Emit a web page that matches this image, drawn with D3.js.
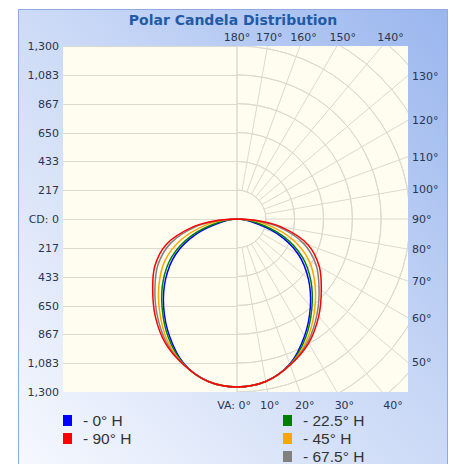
<!DOCTYPE html>
<html>
<head>
<meta charset="utf-8">
<script src="https://cdn.jsdelivr.net/npm/d3@7"></script>
<style>
  body { margin: 0; background: #fff; }
  svg { display: block; }
</style>
</head>
<body>
<script>
var width = 455;
var height = 464;

// vertical angles (deg from nadir) at which candela values were read
var angles = [0, 10, 20, 30, 40, 50, 60, 70, 80, 85, 90];

// candela per horizontal plane
var cd0 = [1262, 1240, 1160, 1015, 858, 700, 533, 318, 100, 40, 0];
var cd225 = [1262, 1240, 1163, 1030, 875, 725, 565, 360, 140, 60, 0];
var cd45 = [1262, 1240, 1165, 1050, 905, 765, 625, 440, 220, 100, 0];
var cd675 = [1262, 1240, 1166, 1065, 935, 805, 685, 530, 300, 150, 0];
var cd90 = [1262, 1240, 1167, 1077, 955, 827, 714, 569, 332, 170, 0];

var seriesNames = ["- 0° H", "- 22.5° H", "- 45° H", "- 67.5° H", "- 90° H"];
var seriesColors = ["#0000ff", "#008000", "#ffa500", "#808080", "#ff0000"];
var seriesValues = [cd0, cd225, cd45, cd675, cd90];

var cdTicks = [1300, 1083, 867, 650, 433, 217, 0, -217, -433, -650, -867, -1083, -1300];
var topLabels = [180, 170, 160, 150, 140];
var rightLabels = [130, 120, 110, 100, 90, 80, 70, 60, 50];
var bottomLabels = [0, 10, 20, 30, 40];
var gridAngles = d3.range(0, 181, 10);
var ringValues = [217, 433, 650, 867, 1083, 1300, 1517, 1733];

var plot = { left: 63, right: 408, top: 46, bottom: 392 };
var cx = 237, cy = 219;

var svg = d3.select("body")
    .append("svg")
    .attr("width", width)
    .attr("height", height);

var defs = svg.append("defs");
var grad = defs.append("linearGradient")
    .attr("id", "panelGrad")
    .attr("x1", 1).attr("y1", 0).attr("x2", 0).attr("y2", 1);
grad.append("stop").attr("offset", "0%").attr("stop-color", "#9ab6ee");
grad.append("stop").attr("offset", "45%").attr("stop-color", "#c9d8f6");
grad.append("stop").attr("offset", "100%").attr("stop-color", "#f7f9fe");

defs.append("clipPath").attr("id", "plotClip")
  .append("rect")
    .attr("x", plot.left).attr("y", plot.top)
    .attr("width", plot.right - plot.left)
    .attr("height", plot.bottom - plot.top);

// outer panel
svg.append("rect")
    .attr("x", 18.5).attr("y", 9.5)
    .attr("width", 429).attr("height", 470)
    .attr("fill", "url(#panelGrad)")
    .attr("stroke", "#8eaae0");

svg.append("text")
    .attr("x", 233).attr("y", 25)
    .attr("text-anchor", "middle")
    .style("font-family", "DejaVu Sans, sans-serif")
    .style("font-weight", "bold")
    .style("font-size", "14px")
    .attr("fill", "#1f5ba6")
    .text("Polar Candela Distribution");

// plot background
svg.append("rect")
    .attr("x", plot.left).attr("y", plot.top)
    .attr("width", plot.right - plot.left)
    .attr("height", plot.bottom - plot.top)
    .attr("fill", "#fffdf0");

var r = d3.scaleLinear().domain([0, 1300]).range([0, cy - plot.top]);
var y = d3.scaleLinear().domain([-1300, 1300]).range([cy + r(1300), cy - r(1300)]);

var grid = svg.append("g").attr("clip-path", "url(#plotClip)")
    .attr("stroke", "#dcdad0").attr("fill", "none").attr("stroke-width", 1);

// horizontal lines on the left half
grid.selectAll(".hline")
    .data(cdTicks)
    .enter()
    .append("line")
    .attr("x1", plot.left).attr("x2", cx)
    .attr("y1", function(d) { return Math.round(y(d)) + 0.5; })
    .attr("y2", function(d) { return Math.round(y(d)) + 0.5; });

// rings on the right half
var arc = d3.arc()
    .innerRadius(function(d) { return r(d); })
    .outerRadius(function(d) { return r(d); })
    .startAngle(0).endAngle(Math.PI);

grid.selectAll(".ring")
    .data(ringValues)
    .enter()
    .append("path")
    .attr("transform", "translate(" + cx + "," + cy + ")")
    .attr("d", arc);

// radial lines every 10 deg
grid.selectAll(".spoke")
    .data(gridAngles)
    .enter()
    .append("line")
    .attr("x1", function(d) { return cx + (d === 0 || d === 180 ? 0 : r(217)) * Math.sin(d * Math.PI / 180); })
    .attr("y1", function(d) { return cy + (d === 0 || d === 180 ? 0 : r(217)) * Math.cos(d * Math.PI / 180); })
    .attr("x2", function(d) { return cx + 400 * Math.sin(d * Math.PI / 180); })
    .attr("y2", function(d) { return cy + 400 * Math.cos(d * Math.PI / 180); });

svg.append("line")
    .attr("x1", cx).attr("x2", cx)
    .attr("y1", plot.top).attr("y2", plot.bottom)
    .attr("stroke", "#dcdad0");

// candela axis
var yAxis = d3.axisLeft(y)
    .tickValues(cdTicks)
    .tickSize(0)
    .tickPadding(0)
    .tickFormat(function(d) { return d === 0 ? "CD: 0" : d3.format(",")(Math.abs(d)); });

var ax = svg.append("g")
    .attr("transform", "translate(" + (plot.left - 4) + ",0)")
    .call(yAxis);
ax.select(".domain").remove();
ax.selectAll("text")
    .style("font-family", "DejaVu Sans, sans-serif")
    .style("font-size", "11px")
    .attr("fill", "#2a3550");

var labelStyle = function(sel) {
    sel.style("font-family", "DejaVu Sans, sans-serif")
        .style("font-size", "11px")
        .attr("fill", "#2a3550");
};

svg.selectAll(".toplab")
    .data(topLabels)
    .enter()
    .append("text")
    .attr("x", function(d) { return cx + (cy - 36) * Math.tan((180 - d) * Math.PI / 180); })
    .attr("y", 41)
    .attr("text-anchor", "middle")
    .text(function(d) { return d + "°"; })
    .call(labelStyle);

svg.selectAll(".rightlab")
    .data(rightLabels)
    .enter()
    .append("text")
    .attr("x", plot.right + 4)
    .attr("y", function(d) {
        return cy + (plot.right - cx) / Math.tan(d * Math.PI / 180) + 4;
    })
    .text(function(d) { return d + "°"; })
    .call(labelStyle);

svg.selectAll(".botlab")
    .data(bottomLabels)
    .enter()
    .append("text")
    .attr("x", function(d) { return d === 0 ? cx + 14 : cx + 186 * Math.tan(d * Math.PI / 180); })
    .attr("y", 409)
    .attr("text-anchor", function(d) { return d === 0 ? "end" : "middle"; })
    .text(function(d) { return d === 0 ? "VA: 0°" : d + "°"; })
    .call(labelStyle);

// candela curves, right half mirrored to the left
var curve = d3.lineRadial()
    .angle(function(d) { return d[0]; })
    .radius(function(d) { return r(d[1]); })
    .curve(d3.curveCatmullRom);

function curvePoints(vals) {
    var pts = [];
    for (var i = angles.length - 1; i > 0; i--) {
        pts.push([Math.PI + angles[i] * Math.PI / 180, vals[i]]);
    }
    for (var j = 0; j < angles.length; j++) {
        pts.push([Math.PI - angles[j] * Math.PI / 180, vals[j]]);
    }
    return pts;
}

svg.append("g")
    .attr("transform", "translate(" + cx + "," + cy + ")")
    .selectAll("path")
    .data(seriesValues)
    .enter()
    .append("path")
    .attr("d", function(d) { return curve(curvePoints(d)); })
    .attr("fill", "none")
    .attr("stroke", function(d, i) { return seriesColors[i]; })
    .attr("stroke-width", 1.5);

// legend
var legendItems = [
    { name: seriesNames[0], color: seriesColors[0], col: 0, row: 0 },
    { name: seriesNames[4], color: seriesColors[4], col: 0, row: 1 },
    { name: seriesNames[1], color: seriesColors[1], col: 1, row: 0 },
    { name: seriesNames[2], color: seriesColors[2], col: 1, row: 1 },
    { name: seriesNames[3], color: seriesColors[3], col: 1, row: 2 }
];

var legend = svg.selectAll(".leg")
    .data(legendItems)
    .enter()
    .append("g")
    .attr("transform", function(d) {
        return "translate(" + (d.col === 0 ? 63 : 283) + "," + (415 + d.row * 18) + ")";
    });

legend.append("rect")
    .attr("width", 9).attr("height", 11)
    .attr("fill", function(d) { return d.color; });

legend.append("text")
    .attr("x", 20).attr("y", 11)
    .style("font-family", "Liberation Sans, Arial, sans-serif")
    .style("font-size", "15.5px")
    .attr("fill", "#333")
    .text(function(d) { return d.name; });
</script>
</body>
</html>
